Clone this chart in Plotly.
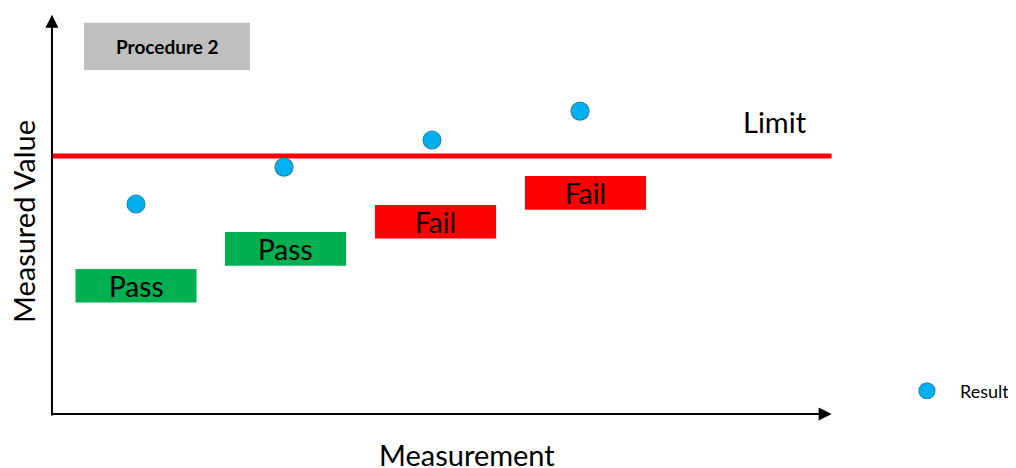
import plotly.graph_objects as go

# ---- data ----
measurements = [1, 2, 3, 4]
measured_values = [8.14, 9.57, 10.62, 11.74]
limit_value = 10.0
status_pass = "Pass"
status_fail = "Fail"
title_label = "Procedure 2"
x_title = "Measurement"
y_title = "Measured Value"
limit_label = "Limit"
series_name = "Result"

# ---- layout constants (data units) ----
X_RANGE = [0.135, 7.0]
Y_RANGE = [-2.403, 15.736]
X0, Y0 = 0.432, 0.0           # axis origin
X_END, Y_END = 5.70, 15.47    # arrow tips
BOX_DROP = 3.17               # status box below point
BOX_SHIFT = [0.0, 0.01, 0.024, 0.037]
BOX_HW, BOX_HH = 0.409, 0.65
FONT = "Lato, 'Open Sans', sans-serif"

fig = go.Figure()

# limit line
fig.add_trace(go.Scatter(x=[X0, X_END], y=[limit_value, limit_value], mode="lines",
                         line=dict(color="#FF0000", width=5), showlegend=False,
                         hoverinfo="skip"))

# points
fig.add_trace(go.Scatter(x=measurements, y=measured_values, mode="markers",
                         name=series_name,
                         marker=dict(size=18, color="#00B0F0",
                                     line=dict(color="#2E86A8", width=1.2))))

shapes = []
annotations = []

# status boxes
for m, v, s in zip(measurements, measured_values, BOX_SHIFT):
    ok = v < limit_value
    color = "#00B050" if ok else "#FF0000"
    cx = m + s
    cy = v - BOX_DROP
    shapes.append(dict(type="rect", xref="x", yref="y", x0=cx - BOX_HW, x1=cx + BOX_HW,
                       y0=cy - BOX_HH, y1=cy + BOX_HH, fillcolor=color, line=dict(width=0),
                       layer="below"))
    annotations.append(dict(x=cx, y=cy, xref="x", yref="y", showarrow=False,
                            text=status_pass if ok else status_fail,
                            font=dict(size=28, color="black", family=FONT)))

# title box
shapes.append(dict(type="rect", xref="x", yref="y", x0=0.649, x1=1.770, y0=13.33, y1=15.16,
                   fillcolor="#BFBFBF", line=dict(width=0), layer="below"))
annotations.append(dict(x=1.21, y=14.25, xref="x", yref="y", showarrow=False,
                        text="<b>" + title_label + "</b>",
                        font=dict(size=19, color="black", family=FONT)))

# axes arrows
annotations.append(dict(x=X0, y=Y_END, ax=X0, ay=-0.12, xref="x", yref="y", axref="x", ayref="y",
                        text="", showarrow=True, arrowhead=2, arrowsize=1.3, arrowwidth=2,
                        arrowcolor="black"))
annotations.append(dict(x=X_END, y=Y0, ax=X0 - 0.01, ay=Y0, xref="x", yref="y", axref="x", ayref="y",
                        text="", showarrow=True, arrowhead=2, arrowsize=1.3, arrowwidth=2,
                        arrowcolor="black"))

# limit label
annotations.append(dict(x=5.318, y=limit_value + 1.32, xref="x", yref="y", showarrow=False,
                        text=limit_label, font=dict(size=29, color="black", family=FONT)))

# axis titles
annotations.append(dict(x=3.236, y=-1.58, xref="x", yref="y", showarrow=False,
                        text=x_title, font=dict(size=29, color="black", family=FONT)))
annotations.append(dict(x=0.245, y=7.45, xref="x", yref="y", showarrow=False, textangle=-90,
                        text=y_title, font=dict(size=29, color="black", family=FONT)))

fig.update_layout(
    width=1016, height=468,
    margin=dict(l=0, r=0, t=0, b=0),
    paper_bgcolor="white", plot_bgcolor="white",
    xaxis=dict(range=X_RANGE, visible=False),
    yaxis=dict(range=Y_RANGE, visible=False),
    shapes=shapes, annotations=annotations,
    showlegend=True,
    legend=dict(x=0.872, y=0.1815, xanchor="left", yanchor="middle", itemwidth=56,
                bgcolor="rgba(0,0,0,0)", font=dict(size=18, color="black", family=FONT)),
)

fig.write_html("out.html")
